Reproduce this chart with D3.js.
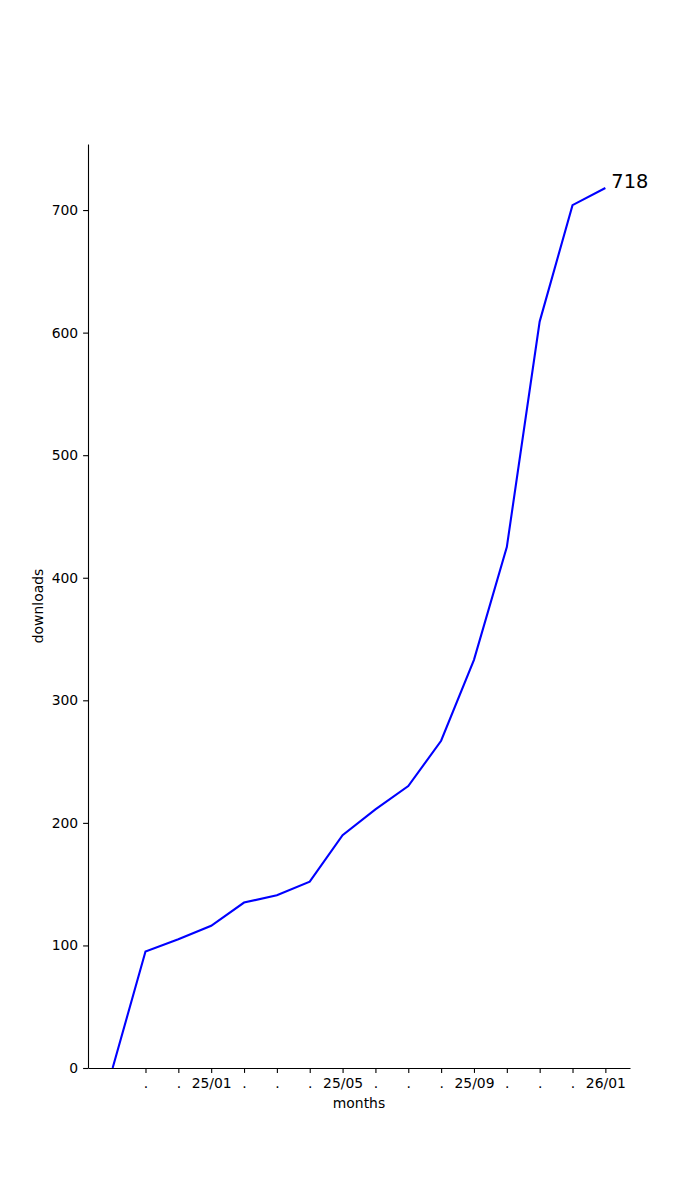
<!DOCTYPE html>
<html lang="en">
<head>
	<meta charset="utf-8">
	<title>Downloads per month</title>
	<script src="https://cdn.jsdelivr.net/npm/d3@7/dist/d3.min.js" charset="utf-8"></script>
	<style>
		body { margin: 0; background: #fff; }
		text { font-family: "DejaVu Sans", sans-serif; }
	</style>
</head>
<body>
	<script type="text/javascript">

		// Data
		var monthIndex = [0, 1, 2, 3, 4, 5, 6, 7, 8, 9, 10, 11, 12, 13, 14, 15];
		var downloads = [0, 95, 105, 116, 135, 141, 152, 190, 211, 230, 267, 333, 425, 609, 704, 718];
		var tickIndex = [1, 2, 3, 4, 5, 6, 7, 8, 9, 10, 11, 12, 13, 14, 15];
		var tickLabels = [".", ".", "25/01", ".", ".", ".", "25/05", ".", ".", ".", "25/09", ".", ".", ".", "26/01"];
		var yTicks = [0, 100, 200, 300, 400, 500, 600, 700];

		var dataset = monthIndex.map(function(d, i) { return {x: d, y: downloads[i]}; });

		// Define margins
		var margin = {top: 144, right: 70, bottom: 132, left: 88};

		//Width and height
		var outer_width = 700;
		var outer_height = 1200;
		var svg_width = outer_width - margin.left - margin.right;
		var svg_height = outer_height - margin.top - margin.bottom;

		var svg = d3.select("body")
					.append("svg")
					.attr("width", outer_width)
					.attr("height", outer_height)
					.append("g")
					.attr("transform", "translate(" + margin.left + "," + margin.top + ")");

		// x scale with a 5% margin either side, y from zero to max + 5%
		var xPad = (d3.max(monthIndex) - d3.min(monthIndex)) * 0.05;
		var xScale = d3.scaleLinear()
						.domain([d3.min(monthIndex) - xPad, d3.max(monthIndex) + xPad])
						.range([0, svg_width]);

		var yScale = d3.scaleLinear()
						.domain([0, d3.max(downloads) * 1.05])
						.range([svg_height, 0]);

		var xAxis = d3.axisBottom()
					  .scale(xScale)
					  .tickValues(tickIndex)
					  .tickFormat(function(d, i) { return tickLabels[i]; })
					  .tickSize(4.9)
					  .tickPadding(4.9)
					  .tickSizeOuter(0);

		var yAxis = d3.axisLeft()
					  .scale(yScale)
					  .tickValues(yTicks)
					  .tickSize(4.9)
					  .tickPadding(4.9)
					  .tickSizeOuter(0);

		// Call the x-axis
		var gx = svg.append("g")
			.attr("transform", "translate(0," + svg_height + ")")
			.call(xAxis);

		// Call the y axis
		var gy = svg.append("g")
			.call(yAxis);

		[gx, gy].forEach(function(g) {
			g.selectAll("path, line").attr("stroke", "#000").attr("stroke-width", 1.1);
			g.selectAll("text").attr("fill", "#000").style("font-size", "13.9px").style("font-family", "DejaVu Sans, sans-serif");
		});

		// Axis labels
		svg.append("text")
			.attr("x", svg_width / 2)
			.attr("y", svg_height + 40)
			.attr("text-anchor", "middle")
			.style("font-size", "13.9px")
			.text("months");

		svg.append("text")
			.attr("transform", "translate(-45," + (svg_height / 2) + ") rotate(-90)")
			.attr("text-anchor", "middle")
			.style("font-size", "13.9px")
			.text("downloads");

		// Draw the line
		var line = d3.line()
					 .x(function(d) { return xScale(d.x); })
					 .y(function(d) { return yScale(d.y); });

		svg.append("path")
			.datum(dataset)
			.attr("d", line)
			.attr("fill", "none")
			.attr("stroke", "#0000ff")
			.attr("stroke-width", 2.1)
			.attr("stroke-linejoin", "miter");

		// Label the last value
		var last = dataset[dataset.length - 1];
		svg.append("text")
			.attr("x", xScale(last.x) + 6)
			.attr("y", yScale(last.y))
			.style("font-size", "19.4px")
			.attr("fill", "#000")
			.text(last.y);

	</script>
</body>
</html>
